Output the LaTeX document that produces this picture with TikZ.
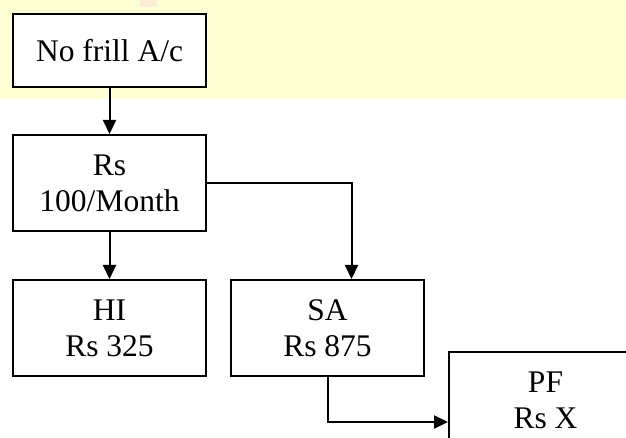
\documentclass[tikz,border=0pt]{standalone}
\usepackage{fontspec}
\setmainfont{Liberation Serif}
\usetikzlibrary{positioning,arrows.meta}
\definecolor{bandyellow}{RGB}{255,255,214}
\definecolor{bandspot}{RGB}{255,236,212}

\begin{document}
\begin{tikzpicture}[x=1pt, y=-1pt, node distance=47pt,
  block/.style={draw, line width=2pt, fill=white, minimum width=193pt, minimum height=96pt, inner sep=0pt, align=center, font=\fontsize{31.5}{36}\selectfont},
  arr/.style={-{Triangle[length=14pt, width=13pt]}, line width=2pt}]

  \useasboundingbox (0,0) rectangle (626,438);
  \clip (0,0) rectangle (626,438);

  % Background band
  \fill[bandyellow] (0,0) rectangle (626,99);
  \fill[bandspot] (140,0) rectangle (157,7);

  % First column
  \node[block, minimum height=73pt] (frill) at (109.5,50.5) {No frill A/c};
  \node[block, below=46pt of frill] (rs) {Rs\\100/Month};
  \node[block, below=47pt of rs] (hi) {HI\\Rs 325};

  % Second column
  \node[block, right=23pt of hi] (sa) {SA\\Rs 875};
  \node[block, right=23pt of sa, yshift=-72pt] (pf) {PF\\Rs X};

  % Arrows
  \draw[arr] (frill) -- (rs);
  \draw[arr] (rs) -- (hi);
  \draw[arr] (rs.east) -| ([xshift=24pt]sa.north);
  \draw[arr] (sa.south) |- ([yshift=-22pt]pf.west);

\end{tikzpicture}
\end{document}
